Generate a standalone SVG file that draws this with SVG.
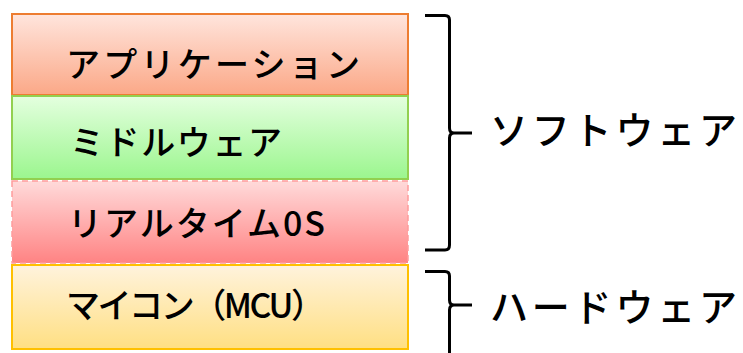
<svg xmlns="http://www.w3.org/2000/svg" width="743" height="353" viewBox="0 0 743 353">
<defs>
<linearGradient id="gApp" x1="0" y1="0" x2="0" y2="1"><stop offset="0" stop-color="#FFE5DD"/><stop offset="1" stop-color="#FBA887"/></linearGradient>
<linearGradient id="gMid" x1="0" y1="0" x2="0" y2="1"><stop offset="0" stop-color="#E4FFDF"/><stop offset="1" stop-color="#9BF68E"/></linearGradient>
<linearGradient id="gOS" x1="0" y1="0" x2="0" y2="1"><stop offset="0" stop-color="#FFDADA"/><stop offset="1" stop-color="#FF8383"/></linearGradient>
<linearGradient id="gMcu" x1="0" y1="0" x2="0" y2="1"><stop offset="0" stop-color="#FFF3DD"/><stop offset="1" stop-color="#FFDF82"/></linearGradient>
</defs>
<style>
text{font-family:"Noto Sans CJK JP","Noto Sans",sans-serif;fill:#000;dominant-baseline:central;font-weight:500}
.lbl{font-size:34px}
.side{font-size:38px}
.brace{fill:none;stroke:#000;stroke-width:3;stroke-linecap:butt;stroke-linejoin:round}
</style>
<g id="app">
<rect x="12" y="14" width="396" height="81" fill="url(#gApp)" stroke="#ED7D31" stroke-width="2"/>
<text class="lbl" x="66" y="62" textLength="294" lengthAdjust="spacing">アプリケーション</text>
</g>
<g id="middleware">
<rect x="12" y="96" width="396" height="83" fill="url(#gMid)" stroke="#92D050" stroke-width="2"/>
<text class="lbl" x="70" y="140" textLength="212" lengthAdjust="spacing">ミドルウェア</text>
</g>
<g id="rtos">
<rect x="12" y="181" width="396" height="82" fill="url(#gOS)" stroke="#FF9C9C" stroke-width="1.5" stroke-dasharray="6,4"/>
<text class="lbl" x="68" y="221" textLength="257" lengthAdjust="spacing">リアルタイム0S</text>
</g>
<g id="mcu">
<rect x="12" y="265" width="396" height="84" fill="url(#gMcu)" stroke="#FFC000" stroke-width="2"/>
<text class="lbl" x="66" y="303" textLength="259" lengthAdjust="spacing">マイコン（MCU）</text>
</g>
<g id="software">
<text class="side" x="490" y="127" textLength="247" lengthAdjust="spacing">ソフトウェア</text>
</g>
<g id="hardware">
<text class="side" x="490" y="304" textLength="247" lengthAdjust="spacing">ハードウェア</text>
</g>
<g id="connectors">
<path class="brace" d="M425,15.5 H445 Q449.5,15.5 449.5,20 V128 Q449.5,133 454,133 H472 M454,133 Q449.5,133 449.5,138 V245 Q449.5,250 445,250 H425"/>
<path class="brace" d="M425,271.5 H445 Q449.5,271.5 449.5,276 V300 Q449.5,305 454,305 H472 M454,305 Q449.5,305 449.5,310 V356"/>
</g>
</svg>
